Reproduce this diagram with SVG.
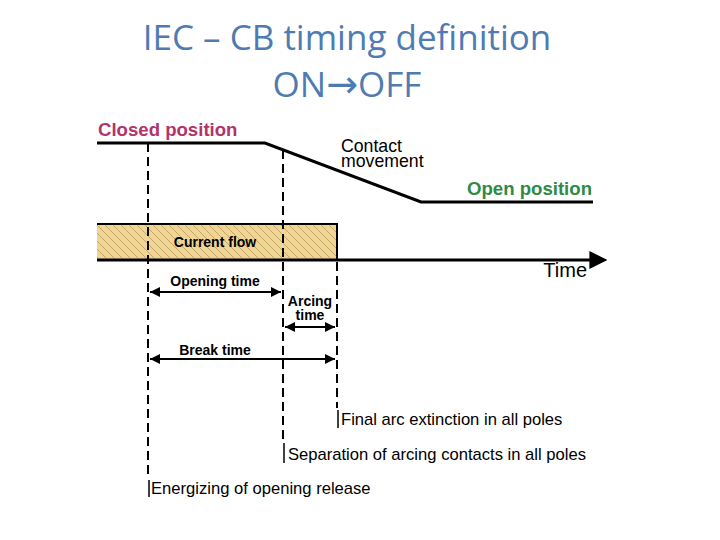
<svg xmlns="http://www.w3.org/2000/svg" width="720" height="540" viewBox="0 0 720 540">
<style>
.title{font-family:"Open Sans","Liberation Sans",sans-serif;fill:#4f7bb3;font-size:35px;text-anchor:middle}
.t{font-family:"Liberation Sans",Arial,sans-serif;fill:#000}
.small{font-size:14px;font-weight:bold}
.ev{font-size:16.6px}
.line{stroke:#000;stroke-width:3;fill:none}
.dash{stroke:#000;stroke-width:2;stroke-dasharray:9 5;fill:none}
.dim{stroke:#000;stroke-width:2;fill:none;marker-start:url(#ah);marker-end:url(#ah)}
.bar{stroke:#000;stroke-width:1.5}
</style>
<defs>
<pattern id="hatch" width="8" height="8" patternUnits="userSpaceOnUse">
<rect width="8" height="8" fill="#f1d595"/>
<path d="M-2,-2 L10,10 M-2,6 L2,10 M6,-2 L10,2" stroke="#b89c60" stroke-width="0.8"/>
</pattern>
<marker id="ah" viewBox="0 0 10 10" refX="10" refY="5" markerWidth="5" markerHeight="5" orient="auto-start-reverse" markerUnits="strokeWidth">
<path d="M0,0 L10,5 L0,10 z" fill="#000"/>
</marker>
<marker id="big" viewBox="0 0 10 10" refX="2" refY="5" markerWidth="6" markerHeight="6" orient="auto" markerUnits="strokeWidth">
<path d="M0,0 L10,5 L0,10 z" fill="#000"/>
</marker>
</defs>
<rect width="720" height="540" fill="#fff"/>
<g id="title">
<text class="title" x="347" y="50">IEC – CB timing definition</text>
<text class="title" x="347" y="97">ON<tspan font-family="DejaVu Sans, sans-serif" font-size="38">→</tspan>OFF</text>
</g>
<g id="current-flow">
<rect x="97" y="224" width="240" height="36" fill="url(#hatch)"/>
<path d="M97,224 H337 V260" stroke="#000" stroke-width="2" fill="none"/>
<text class="t small" x="215" y="247" text-anchor="middle">Current flow</text>
</g>
<g id="contact">
<path class="line" d="M97,143 H265 L421,202 H593"/>
<text class="t" x="98" y="136" font-size="18.6" font-weight="bold" style="fill:#b3336b">Closed position</text>
<text class="t" x="341" y="152" font-size="17.7">Contact</text>
<text class="t" x="341" y="167" font-size="17.7">movement</text>
<text class="t" x="592" y="195" font-size="18.6" font-weight="bold" text-anchor="end" style="fill:#2e8a46">Open position</text>
</g>
<g id="time-axis">
<path d="M97,260 H593" stroke="#000" stroke-width="3" marker-end="url(#big)"/>
<text class="t" x="587" y="277" font-size="20" text-anchor="end">Time</text>
</g>
<g id="connectors">
<path class="dash" d="M148,143 V478"/>
<path class="dash" d="M283,150 V442"/>
<path class="dash" d="M337,262 V408"/>
<path class="dim" d="M150,292 H281"/>
<path class="dim" d="M285,327 H335"/>
<path class="dim" d="M150,359 H335"/>
</g>
<g id="dim-labels">
<text class="t small" x="215" y="286" text-anchor="middle">Opening time</text>
<text class="t small" x="310" y="306" text-anchor="middle">Arcing</text>
<text class="t small" x="310" y="320" text-anchor="middle">time</text>
<text class="t small" x="215" y="355" text-anchor="middle">Break time</text>
</g>
<g id="events">
<line class="bar" x1="338" y1="410" x2="338" y2="428"/>
<text class="t ev" x="341" y="425">Final arc extinction in all poles</text>
<line class="bar" x1="284" y1="443" x2="284" y2="463"/>
<text class="t ev" x="288" y="460">Separation of arcing contacts in all poles</text>
<line class="bar" x1="149" y1="480" x2="149" y2="497"/>
<text class="t ev" x="151" y="494">Energizing of opening release</text>
</g>
</svg>
